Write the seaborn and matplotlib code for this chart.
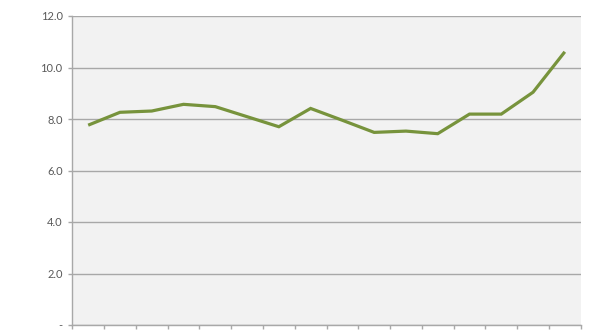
import numpy as np
import pandas as pd
import matplotlib
matplotlib.use("Agg")
import matplotlib.pyplot as plt
import seaborn as sns

# Data
categories = [f"P{i}" for i in range(1, 17)]
values = [7.76, 8.26, 8.31, 8.57, 8.48, 8.09, 7.70, 8.41,
          7.95, 7.48, 7.53, 7.43, 8.19, 8.19, 9.04, 10.61]
y_ticks = [0, 2, 4, 6, 8, 10, 12]
y_tick_labels = ["-", "2.0", "4.0", "6.0", "8.0", "10.0", "12.0"]

sns.set_theme(style="white")
plt.rcParams["font.family"] = ["Lato", "DejaVu Sans"]

df = pd.DataFrame({"pos": np.arange(len(categories)), "cat": categories, "value": values})

fig = plt.figure(figsize=(5.95, 3.35), dpi=100)
ax = fig.add_axes([72.3 / 595, 10 / 335, (580.7 - 72.3) / 595, (325 - 16) / 335])
ax.set_facecolor("#F2F2F2")

sns.lineplot(data=df, x="pos", y="value", ax=ax, color="#77933C", linewidth=2.3,
             solid_capstyle="butt", solid_joinstyle="miter", zorder=3)

ax.set_xlim(-0.5, len(categories) - 0.5)
ax.set_ylim(0, 12)
ax.set_yticks(y_ticks)
ax.set_yticklabels(y_tick_labels)
ax.set_xticks(np.arange(-0.5, len(categories), 1.0))
ax.set_xticklabels([])
ax.set_xlabel("")
ax.set_ylabel("")

grid_c = "#A8A8A8"
ax.yaxis.grid(True, color=grid_c, linewidth=1.0)
ax.xaxis.grid(False)
ax.set_axisbelow(True)

for s in ["top", "right"]:
    ax.spines[s].set_visible(False)
for s in ["left", "bottom"]:
    ax.spines[s].set_color(grid_c)
    ax.spines[s].set_linewidth(1.0)

ax.tick_params(axis="y", which="major", left=True, length=3, width=1.0, color=grid_c,
               labelsize=8, labelcolor="#595959", pad=4)
ax.tick_params(axis="x", which="major", bottom=True, length=3, width=1.0, color=grid_c,
               direction="out")

fig.savefig("out.png", dpi=100, facecolor="white")
